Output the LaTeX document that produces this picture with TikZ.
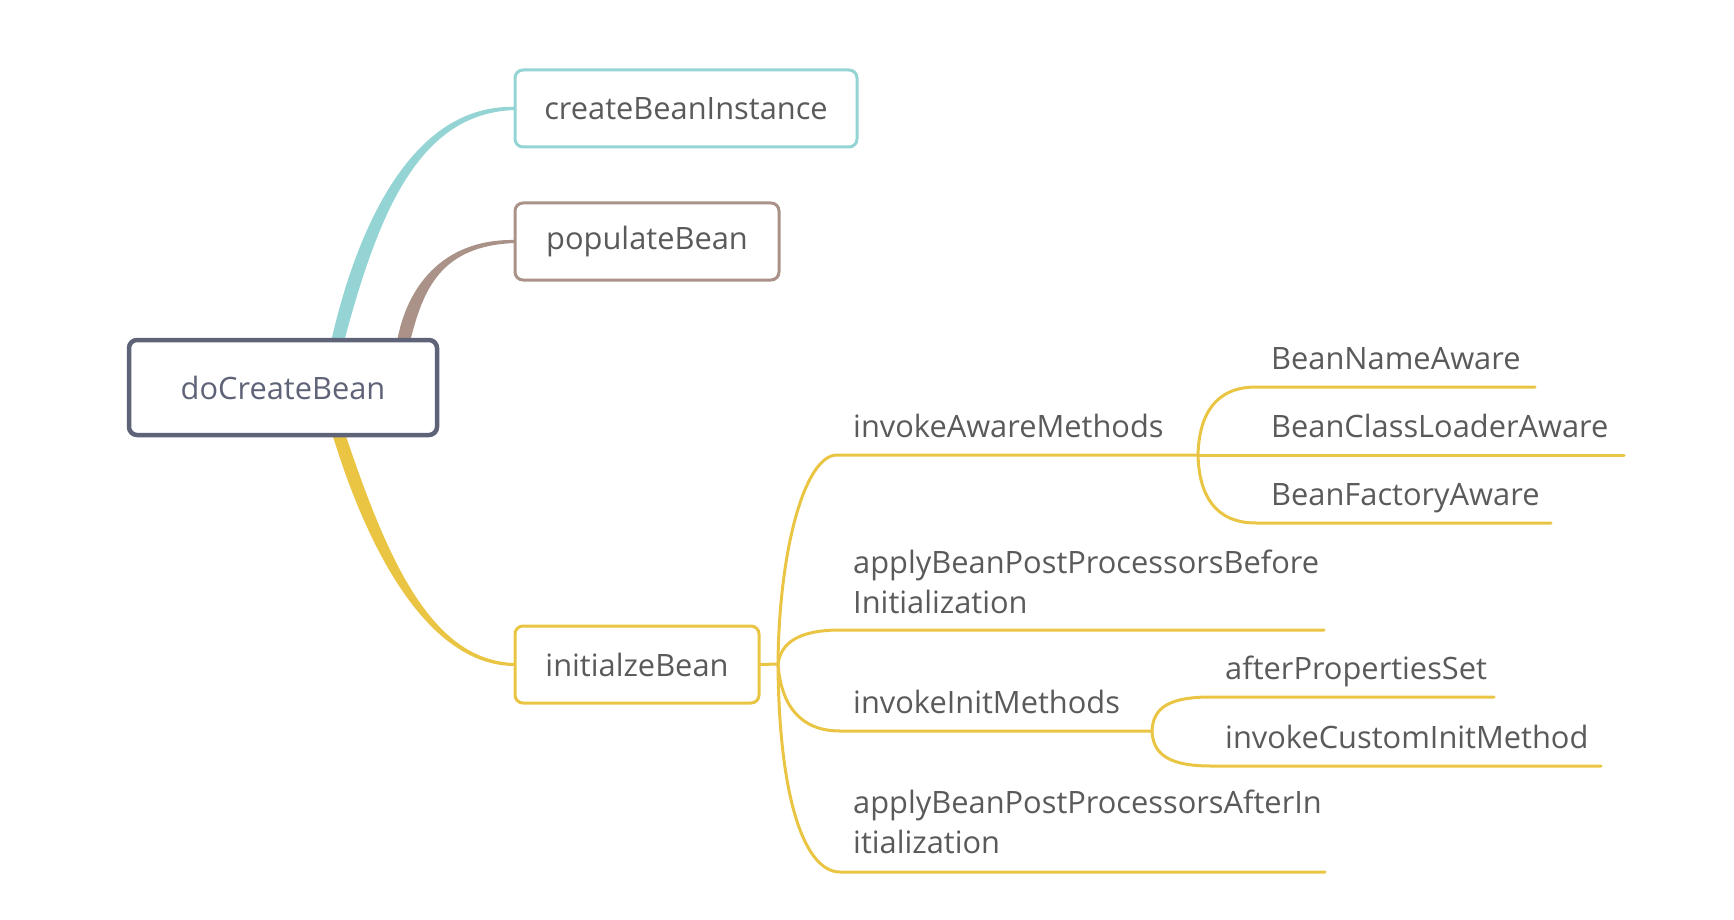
\documentclass[tikz,border=0pt]{standalone}
\usepackage{fontspec}
\setmainfont{Open Sans}
\usetikzlibrary{calc}
\definecolor{tealc}{HTML}{94D4D4}
\definecolor{brownc}{HTML}{AA9288}
\definecolor{yelc}{HTML}{EAC544}
\definecolor{slatec}{HTML}{5F6378}
\definecolor{txtc}{HTML}{5A5A5A}
\pgfdeclarelayer{bg}
\pgfsetlayers{bg,main}
\begin{document}
\begin{tikzpicture}[x=1pt,y=-1pt,
  box/.style={draw, rounded corners=8pt, line width=3pt, fill=white, minimum height=77pt, inner sep=0pt, font=\fontsize{30.8}{40}\selectfont, text=txtc},
  lab/.style={anchor=base west, inner sep=0pt, font=\fontsize{30.8}{40}\selectfont, text=txtc, align=left},
  br/.style={draw=yelc, line width=3pt, line cap=round}]
\useasboundingbox (0,0) rectangle (1734,920);

% main nodes
\node[box, draw=slatec, line width=4.5pt, text=slatec, minimum width=308pt, minimum height=95pt] (dcb) at (283,387.5) {doCreateBean};
\node[box, draw=tealc, minimum width=342pt] (cbi) at (686,108.5) {createBeanInstance};
\node[box, draw=brownc, minimum width=264pt] (pb) at (647,241.5) {populateBean};
\node[box, draw=yelc, minimum width=244pt] (ib) at (637,664.5) {initialzeBean};

% tapered main connectors
\begin{pgfonlayer}{bg}
\fill[tealc] ($(dcb.north)+(48,4)$) .. controls (361,210) and (420,103.5) .. ($(cbi.west)+(2,-1.5)$) -- ($(cbi.west)+(2,1.5)$) .. controls (420,112.5) and (379,210) .. ($(dcb.north)+(61,4)$) -- cycle;
\fill[brownc] ($(dcb.north)+(114,4)$) .. controls (406,290) and (440,238.5) .. ($(pb.west)+(2,-1.5)$) -- ($(pb.west)+(2,1.5)$) .. controls (440,245.5) and (423,290) .. ($(dcb.north)+(127,4)$) -- cycle;
\fill[yelc] ($(dcb.south)+(49,-4)$) .. controls (369,555) and (430,666.5) .. ($(ib.west)+(2,1.5)$) -- ($(ib.west)+(2,-1.5)$) .. controls (430,661.5) and (386,555) .. ($(dcb.south)+(62,-4)$) -- cycle;
\end{pgfonlayer}

% branch coordinates
\coordinate (b1) at (778,664);
\coordinate (b2) at (1198,455);
\coordinate (b3) at (1152,731);
\coordinate (e1) at (1324,630);
\coordinate (e2) at (1325,872);
\coordinate (e3) at (1535,387);
\coordinate (e4) at (1624,455);
\coordinate (e5) at (1551,523);
\coordinate (e6) at (1494,697);
\coordinate (e7) at (1601,766);

\draw[br] (ib.east) -- (b1);
\draw[br] (b1) .. controls (779,549) and (805,455) .. (837,455) -- (b2);
\draw[br] (b1) .. controls (781,642) and (800,630) .. (840,630) -- (e1);
\draw[br] (b1) .. controls (781,705) and (800,731) .. (840,731) -- (b3);
\draw[br] (b1) .. controls (779,800) and (805,872) .. (840,872) -- (e2);
\draw[br] (b2) .. controls (1199,415) and (1215,387) .. (1256,387) -- (e3);
\draw[br] (b2) -- (e4);
\draw[br] (b2) .. controls (1199,495) and (1215,523) .. (1256,523) -- (e5);
\draw[br] (b3) .. controls (1153,707) and (1170,697) .. (1211,697) -- (e6);
\draw[br] (b3) .. controls (1153,755) and (1170,766) .. (1211,766) -- (e7);

% labels
\node[lab] (iam) at (853,437) {invokeAwareMethods};
\node[lab] (abpb) at (853,613) {applyBeanPostProcessorsBefore\\Initialization};
\node[lab] (iim) at (853,713) {invokeInitMethods};
\node[lab] (abpa) at (853,853) {applyBeanPostProcessorsAfterIn\\itialization};
\node[lab] (bna) at (1271,369) {BeanNameAware};
\node[lab] (bcla) at (1271,437) {BeanClassLoaderAware};
\node[lab] (bfa) at (1271,505) {BeanFactoryAware};
\node[lab] (aps) at (1225,679) {afterPropertiesSet};
\node[lab] (icim) at (1225,748) {invokeCustomInitMethod};
\end{tikzpicture}
\end{document}
